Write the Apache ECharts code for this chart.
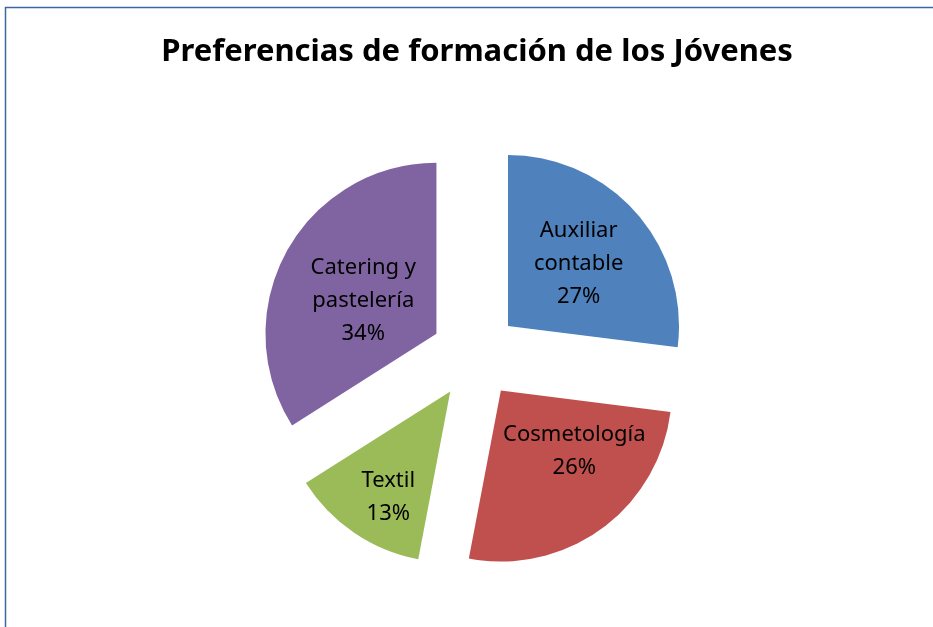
<!DOCTYPE html>
<html><head><meta charset="utf-8">
<script src="https://cdn.jsdelivr.net/npm/echarts@6/dist/echarts.min.js"></script>
<style>html,body{margin:0;padding:0;background:#fff}#c{width:933px;height:627px}</style>
</head><body><div id="c"></div>
<script>
const categories = ["Auxiliar contable", "Cosmetología", "Textil", "Catering y pastelería"];
const labelLines = ["Auxiliar\ncontable", "Cosmetología", "Textil", "Catering y\npastelería"];
const values = [27, 26, 13, 34];
const colors = ["#4f81bd", "#c0504d", "#9bbb59", "#8064a2"];
const titleText = "Preferencias de formación de los Jóvenes";

const FONT = "'Noto Sans', 'Open Sans', sans-serif";
const center = [475, 355];
const R = 171;
const off = 44;
// label nudges: horizontal padding [top,right,bottom,left] and vertical spacer heights [top, bottom]
const labelPads = [[0, 8, 0, 0], [0, 0, 0, 30], [0, 0, 0, 16], [0, 0, 0, 28]];
const labelSpacers = [[8, 0], [0, 40], [6, 0], [30, 0]];

function mk(labelFilter, transparent) {
  return categories.map((n, i) => ({
    name: n, value: values[i], selected: true,
    itemStyle: { color: transparent ? 'rgba(0,0,0,0)' : colors[i] },
    label: { show: labelFilter(i), padding: labelPads[i] }
  }));
}
const base = {
  type: 'pie', center: center, startAngle: 90, clockwise: true,
  selectedMode: 'multiple', selectedOffset: off, animation: false, silent: true,
  labelLine: { show: false }
};
const richSp = {};
labelSpacers.forEach((s, i) => {
  richSp['t' + i] = { lineHeight: Math.max(s[0], 1), fontSize: 1 };
  richSp['b' + i] = { lineHeight: Math.max(s[1], 1), fontSize: 1 };
});
const labelStyle = {
  position: 'inside', color: '#000', fontFamily: FONT, fontSize: 22, lineHeight: 33,
  rich: richSp,
  formatter: p => {
    const i = p.dataIndex;
    let txt = labelLines[i] + "\n" + Math.round(p.percent) + "%";
    if (labelSpacers[i][0]) txt = "{t" + i + "| }\n" + txt;
    if (labelSpacers[i][1]) txt = txt + "\n{b" + i + "| }";
    return txt;
  }
};
const chart = echarts.init(document.getElementById('c'));
chart.setOption({
  backgroundColor: '#fff',
  title: { text: titleText, left: 472, textAlign: 'center', top: 32,
    textStyle: { fontFamily: FONT, fontWeight: 'bold', fontSize: 31, color: '#000' } },
  graphic: [{ type: 'rect', shape: { x: 5.5, y: 7.5, width: 1200, height: 900 },
    style: { fill: null, stroke: '#3b68a3', lineWidth: 1.5 } }],
  series: [
    Object.assign({}, base, { radius: [0, R], data: mk(() => false, false), label: { show: false } }),
    Object.assign({}, base, { radius: [22, R], data: mk(i => i !== 2, true), label: labelStyle }),
    Object.assign({}, base, { radius: [72, R], data: mk(i => i === 2, true), label: labelStyle })
  ]
});
</script></body></html>
